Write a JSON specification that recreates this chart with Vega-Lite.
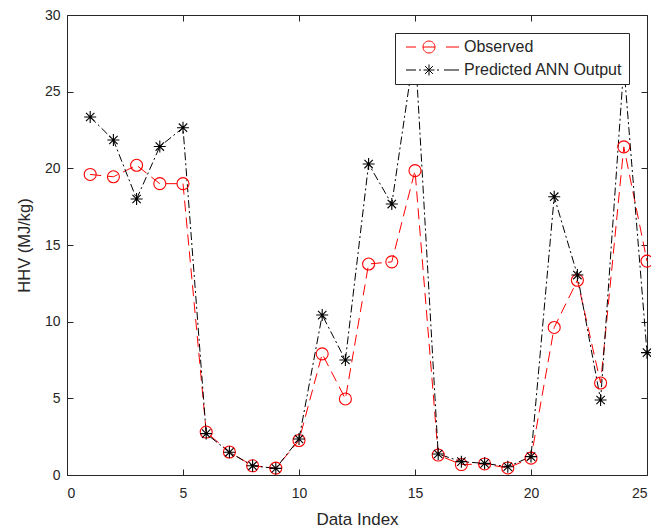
{
  "$schema": "https://vega.github.io/schema/vega-lite/v6.json",
  "width": 580,
  "height": 460,
  "autosize": "none",
  "padding": {"left": 67, "top": 15, "right": 4, "bottom": 56},
  "background": "white",
  "config": {
    "view": {"stroke": null},
    "font": "Liberation Sans",
    "axis": {
      "domainColor": "#262626",
      "domainWidth": 1,
      "tickColor": "#262626",
      "tickSize": -6,
      "grid": false,
      "labelColor": "#262626",
      "labelFontSize": 14,
      "titleColor": "#262626",
      "titleFontSize": 17,
      "titleFontWeight": "normal"
    },
    "legend": {
      "title": null,
      "orient": "top-right",
      "offset": 18,
      "padding": 6,
      "fillColor": "white",
      "strokeColor": "#262626",
      "symbolSize": 100,
      "symbolStrokeWidth": 1,
      "symbolFillColor": "transparent",
      "labelFontSize": 16,
      "labelColor": "#262626",
      "labelOffset": 47,
      "rowPadding": 7
    }
  },
  "data": {
    "values": [
      {"i": 1, "series": "Observed", "v": 19.6},
      {"i": 2, "series": "Observed", "v": 19.45},
      {"i": 3, "series": "Observed", "v": 20.2},
      {"i": 4, "series": "Observed", "v": 19.0},
      {"i": 5, "series": "Observed", "v": 19.0},
      {"i": 6, "series": "Observed", "v": 2.8},
      {"i": 7, "series": "Observed", "v": 1.5},
      {"i": 8, "series": "Observed", "v": 0.6},
      {"i": 9, "series": "Observed", "v": 0.45},
      {"i": 10, "series": "Observed", "v": 2.25},
      {"i": 11, "series": "Observed", "v": 7.9},
      {"i": 12, "series": "Observed", "v": 4.96},
      {"i": 13, "series": "Observed", "v": 13.76},
      {"i": 14, "series": "Observed", "v": 13.9},
      {"i": 15, "series": "Observed", "v": 19.85},
      {"i": 16, "series": "Observed", "v": 1.3},
      {"i": 17, "series": "Observed", "v": 0.68},
      {"i": 18, "series": "Observed", "v": 0.72},
      {"i": 19, "series": "Observed", "v": 0.46},
      {"i": 20, "series": "Observed", "v": 1.1},
      {"i": 21, "series": "Observed", "v": 9.62},
      {"i": 22, "series": "Observed", "v": 12.7},
      {"i": 23, "series": "Observed", "v": 6.0},
      {"i": 24, "series": "Observed", "v": 21.4},
      {"i": 25, "series": "Observed", "v": 13.95},
      {"i": 1, "series": "Predicted ANN Output", "v": 23.35},
      {"i": 2, "series": "Predicted ANN Output", "v": 21.85},
      {"i": 3, "series": "Predicted ANN Output", "v": 18.0},
      {"i": 4, "series": "Predicted ANN Output", "v": 21.42},
      {"i": 5, "series": "Predicted ANN Output", "v": 22.65},
      {"i": 6, "series": "Predicted ANN Output", "v": 2.7},
      {"i": 7, "series": "Predicted ANN Output", "v": 1.48},
      {"i": 8, "series": "Predicted ANN Output", "v": 0.6},
      {"i": 9, "series": "Predicted ANN Output", "v": 0.43},
      {"i": 10, "series": "Predicted ANN Output", "v": 2.35},
      {"i": 11, "series": "Predicted ANN Output", "v": 10.43},
      {"i": 12, "series": "Predicted ANN Output", "v": 7.5},
      {"i": 13, "series": "Predicted ANN Output", "v": 20.28},
      {"i": 14, "series": "Predicted ANN Output", "v": 17.67},
      {"i": 15, "series": "Predicted ANN Output", "v": 28.0},
      {"i": 16, "series": "Predicted ANN Output", "v": 1.37},
      {"i": 17, "series": "Predicted ANN Output", "v": 0.87},
      {"i": 18, "series": "Predicted ANN Output", "v": 0.76},
      {"i": 19, "series": "Predicted ANN Output", "v": 0.54},
      {"i": 20, "series": "Predicted ANN Output", "v": 1.2},
      {"i": 21, "series": "Predicted ANN Output", "v": 18.15},
      {"i": 22, "series": "Predicted ANN Output", "v": 13.04},
      {"i": 23, "series": "Predicted ANN Output", "v": 4.89},
      {"i": 24, "series": "Predicted ANN Output", "v": 26.7},
      {"i": 25, "series": "Predicted ANN Output", "v": 7.98}
    ]
  },
  "resolve": {
    "axis": {"x": "independent", "y": "independent"},
    "scale": {"shape": "independent", "color": "independent"},
    "legend": {"shape": "independent", "color": "independent"}
  },
  "layer": [
    {
      "transform": [{"filter": "datum.series === 'Observed'"}],
      "mark": {"type": "line", "color": "#FF0000", "strokeWidth": 1, "strokeDash": [11, 6]},
      "encoding": {
        "x": {"field": "i", "type": "quantitative", "scale": {"domain": [0, 25], "nice": false, "zero": false},
          "axis": {"orient": "bottom", "values": [0, 5, 10, 15, 20, 25], "title": "Data Index", "labelPadding": 17, "titlePadding": 11}},
        "y": {"field": "v", "type": "quantitative", "scale": {"domain": [0, 30], "nice": false, "zero": false},
          "axis": {"orient": "left", "values": [0, 5, 10, 15, 20, 25, 30], "title": "HHV (MJ/kg)", "titleFontSize": 16.5, "labelPadding": 13, "titlePadding": 12}}
      }
    },
    {
      "transform": [{"filter": "datum.series !== 'Observed'"}],
      "mark": {"type": "line", "color": "#000000", "strokeWidth": 1, "strokeDash": [8, 3, 2, 3]},
      "encoding": {
        "x": {"field": "i", "type": "quantitative", "axis": null},
        "y": {"field": "v", "type": "quantitative", "axis": null}
      }
    },
    {
      "mark": {"type": "point", "filled": false, "size": 144, "strokeWidth": 1.1, "opacity": 1},
      "encoding": {
        "x": {"field": "i", "type": "quantitative",
          "axis": {"orient": "top", "values": [0, 5, 10, 15, 20, 25], "labels": false, "title": null}},
        "y": {"field": "v", "type": "quantitative",
          "axis": {"orient": "right", "values": [0, 5, 10, 15, 20, 25, 30], "labels": false, "title": null}},
        "color": {"field": "series", "type": "nominal",
          "scale": {"domain": ["Observed", "Predicted ANN Output"], "range": ["#FF0000", "#000000"]},
          "legend": null},
        "shape": {"field": "series", "type": "nominal",
          "scale": {"domain": ["Observed", "Predicted ANN Output"], "range": ["circle", "M-1,0H1M0,-1V1M-0.7,-0.7L0.7,0.7M-0.7,0.7L0.7,-0.7"]},
          "legend": null}
      }
    },
    {
      "transform": [{"filter": "false"}],
      "mark": {"type": "point", "filled": false, "size": 100, "strokeWidth": 1, "opacity": 1},
      "encoding": {
        "x": {"field": "i", "type": "quantitative", "axis": null},
        "y": {"field": "v", "type": "quantitative", "axis": null},
        "color": {"field": "series", "type": "nominal",
          "scale": {"domain": ["Observed", "Predicted ANN Output"], "range": ["#FF0000", "#000000"]}},
        "shape": {"field": "series", "type": "nominal",
          "scale": {"domain": ["Observed", "Predicted ANN Output"], "range": [
            "M-0.6,0H1.4M7.4,0H10M2.8,0H5.2M5.2,0A1.2,1.2,0,1,1,2.8,0A1.2,1.2,0,1,1,5.2,0",
            "M-0.6,0H1.4M2,0H2.4M5.6,0H6M7,0H10M2.9,0H5.1M4,-1.1V1.1M3.22,-0.78L4.78,0.78M3.22,0.78L4.78,-0.78"
          ]}}
      }
    }
  ]
}
